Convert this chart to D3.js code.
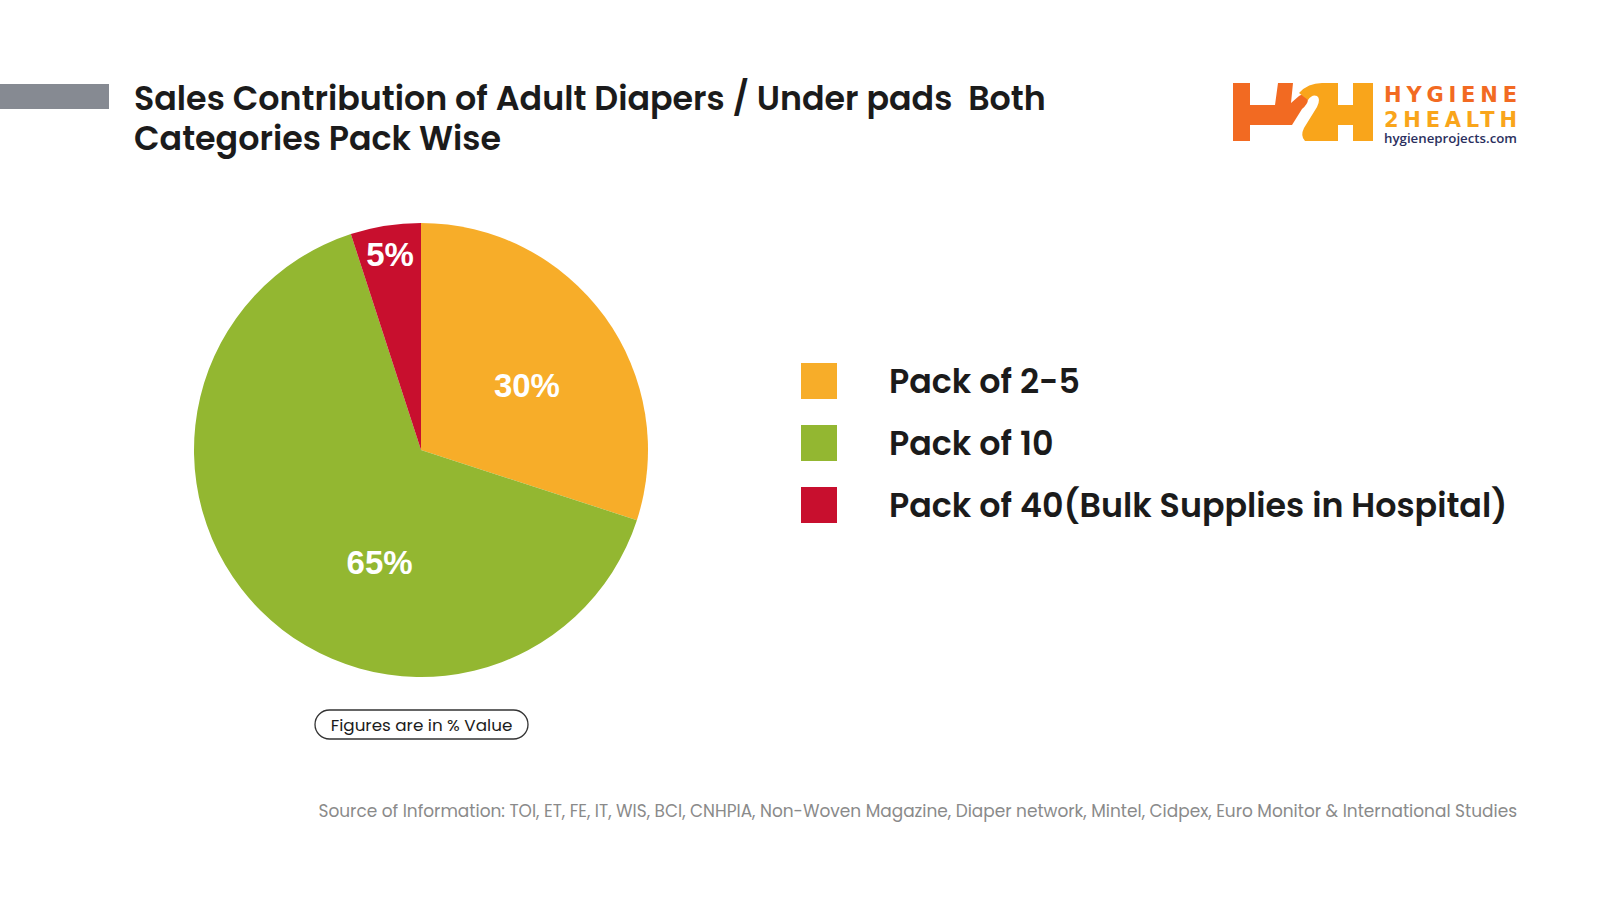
<!DOCTYPE html>
<html><head><meta charset="utf-8">
<script src="https://cdn.jsdelivr.net/npm/d3@7"></script>
<style>
html,body{margin:0;padding:0;background:#fff;}
svg{display:block;}
</style></head>
<body>
<svg id="chart" width="1600" height="900"></svg>
<script>
// ---- data ----
const categories = ["Pack of 2-5", "Pack of 10", "Pack of 40(Bulk Supplies in Hospital)"];
const shares = [30, 65, 5];
const sliceLabels = ["30%", "65%", "5%"];
const colors = ["#F7AD29", "#93B731", "#C80F2E"];
const titleLines = ["Sales Contribution of Adult Diapers / Under pads  Both", "Categories Pack Wise"];
const noteText = "Figures are in % Value";
const sourceText = "Source of Information: TOI, ET, FE, IT, WIS, BCI, CNHPIA, Non-Woven Magazine, Diaper network, Mintel, Cidpex, Euro Monitor & International Studies";

// ---- layout ----
const svg = d3.select("#chart");
const cx = 421, cy = 450, R = 227;
const titleFont = "Poppins, Inter, 'Open Sans', sans-serif";

// header bar
svg.append("rect").attr("x", 0).attr("y", 84).attr("width", 109).attr("height", 25).attr("fill", "#868A92");

// title
svg.selectAll("text.title").data(titleLines).join("text").attr("class", "title")
  .attr("x", 134).attr("y", (d, i) => 110 + i * 40)
  .attr("font-family", titleFont).attr("font-weight", 600).attr("font-size", 33.3)
  .attr("fill", "#1b1b1b").style("white-space", "pre").text(d => d);

// pie
const pie = d3.pie().sort(null).value(d => d)(shares);
const arc = d3.arc().innerRadius(0).outerRadius(R);
const g = svg.append("g").attr("transform", `translate(${cx},${cy})`);
g.selectAll("path").data(pie).join("path")
  .attr("d", arc).attr("fill", (d, i) => colors[i]);

// label placement (angle in degrees clockwise from top, radius)
const labelLayout = [[58.7, 124], [200.2, 120], [351, 198]];
g.selectAll("text.lbl").data(pie).join("text").attr("class", "lbl")
  .attr("x", (d, i) => labelLayout[i][1] * Math.sin(labelLayout[i][0] * Math.PI / 180))
  .attr("y", (d, i) => -labelLayout[i][1] * Math.cos(labelLayout[i][0] * Math.PI / 180))
  .attr("dy", "0.36em")
  .attr("text-anchor", "middle").attr("fill", "#fff")
  .attr("font-family", "'Liberation Sans', Arial, sans-serif").attr("font-weight", 700)
  .attr("font-size", 33)
  .text((d, i) => sliceLabels[i]);

// legend
const lg = svg.append("g");
const rowY = d3.scalePoint().domain(categories).range([381, 505]);
lg.selectAll("rect").data(categories).join("rect")
  .attr("x", 801).attr("y", d => rowY(d) - 18).attr("width", 36).attr("height", 36)
  .attr("fill", (d, i) => colors[i]);
lg.selectAll("text").data(categories).join("text")
  .attr("x", 889).attr("y", d => rowY(d)).attr("dy", "0.35em")
  .attr("font-family", titleFont).attr("font-weight", 600).attr("font-size", 33.3)
  .attr("fill", "#1b1b1b").text(d => d);

// note pill
svg.append("rect").attr("x", 315).attr("y", 710).attr("width", 213).attr("height", 29)
  .attr("rx", 14.5).attr("fill", "#fff").attr("stroke", "#333").attr("stroke-width", 1.3);
svg.append("text").attr("x", 421.5).attr("y", 725).attr("dy", "0.35em").attr("text-anchor", "middle")
  .attr("font-family", titleFont).attr("font-size", 16.8).attr("fill", "#1b1b1b").text(noteText);

// source
svg.append("text").attr("x", 1517).attr("y", 811).attr("dy", "0.35em").attr("text-anchor", "end")
  .attr("font-family", titleFont).attr("font-size", 16.95).attr("fill", "#8a8a8a").text(sourceText);

// logo
const logo = svg.append("g");
logo.append("path").attr("fill", "#F26A22")
  .attr("d", "M1233,83 H1250 V105 H1275 L1278,83 H1293 L1291,103 L1299,96 Q1306,92 1308,99 Q1308,104 1302,109 L1292,125 H1250 V141 H1233 Z");
logo.append("path").attr("fill", "#F9A51B")
  .attr("d", "M1322,83 Q1308,83 1299,93 L1308,100 Q1312,94 1317,96 Q1321,99 1317,107 L1304,128 Q1300,136 1305,141 H1338 V125 H1353 V141 H1373 V83 H1353 V105 H1338 V83 Z");
logo.append("text").attr("x", 1384).attr("y", 102).attr("font-family", "'DejaVu Sans', sans-serif")
  .attr("font-weight", 700).attr("font-size", 21).attr("fill", "#F26A22").attr("textLength", 133)
  .attr("lengthAdjust", "spacing").text("HYGIENE");
logo.append("text").attr("x", 1384).attr("y", 127).attr("font-family", "'DejaVu Sans', sans-serif")
  .attr("font-weight", 700).attr("font-size", 21).attr("fill", "#F9A51B").attr("textLength", 133)
  .attr("lengthAdjust", "spacing").text("2HEALTH");
logo.append("text").attr("x", 1384).attr("y", 143).attr("font-family", "'Open Sans', sans-serif")
  .attr("font-weight", 600).attr("font-size", 12).attr("fill", "#2B2F5E").attr("textLength", 133)
  .attr("lengthAdjust", "spacingAndGlyphs").text("hygieneprojects.com");
</script>
</body></html>
